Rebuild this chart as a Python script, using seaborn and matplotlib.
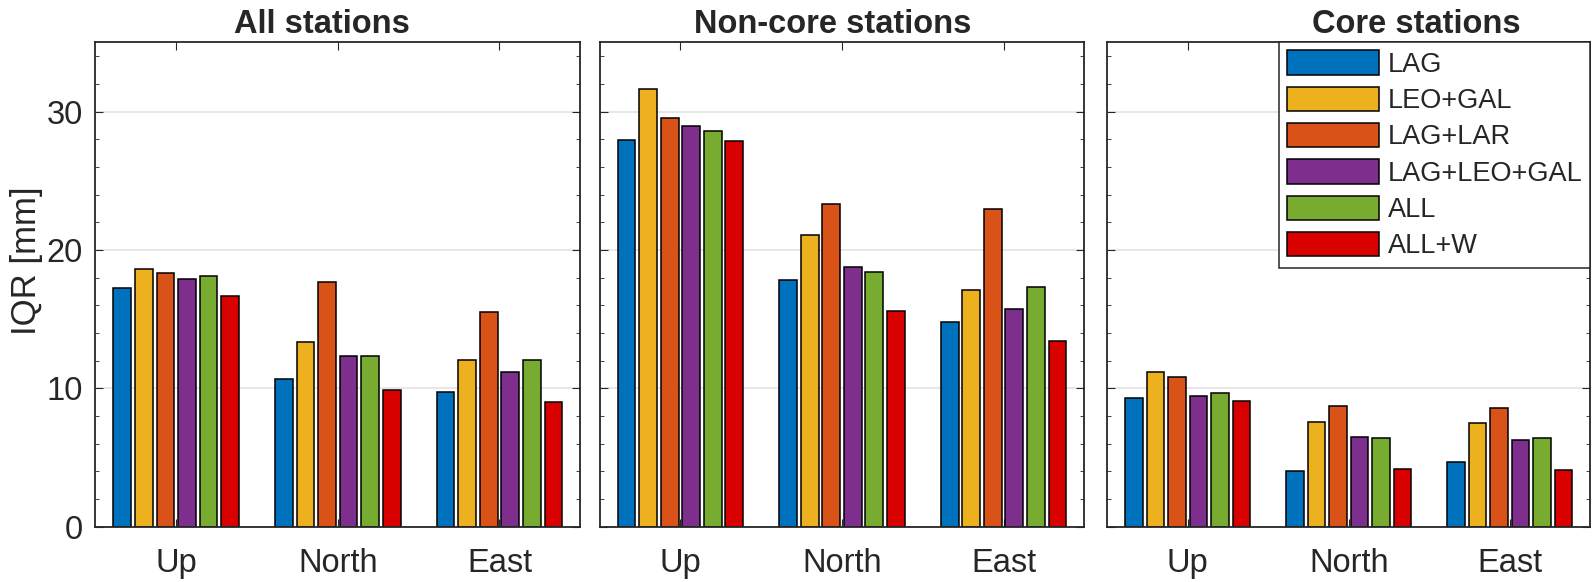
import pandas as pd
import numpy as np
import matplotlib
matplotlib.use("Agg")
import matplotlib.pyplot as plt
from matplotlib.ticker import MultipleLocator
import seaborn as sns

# IQR of station coordinate residuals [mm]
components = ["Up", "North", "East"]
methods = ["LAG", "LEO+GAL", "LAG+LAR", "LAG+LEO+GAL", "ALL", "ALL+W"]
colors = ["#0072BD", "#EDB120", "#D95319", "#7E2F8E", "#77AC30", "#D90000"]
titles = ["All stations", "Non-core stations", "Core stations"]

# rows = methods, columns = Up, North, East
iqr_all = [
    [17.25, 10.7, 9.75],
    [18.65, 13.35, 12.05],
    [18.35, 17.65, 15.5],
    [17.9, 12.35, 11.15],
    [18.1, 12.35, 12.05],
    [16.7, 9.85, 9.0],
]
iqr_noncore = [
    [27.95, 17.85, 14.8],
    [31.65, 21.1, 17.1],
    [29.5, 23.3, 22.95],
    [28.95, 18.8, 15.75],
    [28.6, 18.4, 17.3],
    [27.85, 15.55, 13.4],
]
iqr_core = [
    [9.3, 4.0, 4.7],
    [11.15, 7.6, 7.5],
    [10.85, 8.7, 8.55],
    [9.45, 6.5, 6.3],
    [9.65, 6.4, 6.4],
    [9.1, 4.2, 4.1],
]

sns.set_style("white")
plt.rcParams["font.family"] = ["Liberation Sans", "DejaVu Sans"]
plt.rcParams["axes.edgecolor"] = "#262626"
plt.rcParams["axes.linewidth"] = 1.3

fig = plt.figure(figsize=(15.92, 5.82), dpi=100)
lefts = [0.0599, 0.3767, 0.6955]
widths = [0.3046, 0.3044, 0.3035]
title_x = [0.468, 0.48, 0.64]

for i, data in enumerate([iqr_all, iqr_noncore, iqr_core]):
    ax = fig.add_axes([lefts[i], 0.0950, widths[i], 0.8323])
    df = pd.DataFrame(
        [(m, c, data[j][k]) for j, m in enumerate(methods) for k, c in enumerate(components)],
        columns=["method", "component", "iqr"],
    )
    sns.barplot(data=df, x="component", y="iqr", hue="method", order=components,
                hue_order=methods, palette=colors, saturation=1, edgecolor="black",
                linewidth=1.1, gap=0.18, width=0.8, ax=ax, legend=(i == 2))
    ax.set_xlim(-0.5, 2.5)
    ax.set_ylim(0, 35)
    ax.yaxis.set_major_locator(MultipleLocator(10))
    ax.yaxis.set_minor_locator(MultipleLocator(2))
    ax.yaxis.grid(True, which="major", color="#e3e3e3", lw=1.2)
    ax.set_axisbelow(True)
    ax.tick_params(axis="both", which="both", direction="in", top=True, right=True,
                   left=True, bottom=True, color="#262626")
    ax.tick_params(axis="both", which="major", length=6, labelsize=23.5, pad=9)
    ax.tick_params(axis="x", which="major", pad=15)
    ax.tick_params(axis="y", which="minor", length=3)
    ax.tick_params(axis="x", which="minor", length=0)
    ax.set_xlabel("")
    if i == 0:
        ax.set_ylabel("IQR [mm]", fontsize=25)
        ax.yaxis.set_label_coords(-0.108, 0.55)
    else:
        ax.set_ylabel("")
        ax.set_yticklabels([])
    ax.set_title(titles[i], fontsize=23.5, fontweight="bold", pad=7, x=title_x[i])
    if i == 2:
        handles, labels = ax.get_legend_handles_labels()
        leg = ax.legend(handles, labels, loc="upper right", bbox_to_anchor=(1.0, 1.0),
                        borderaxespad=0, fontsize=19.5, handlelength=3.4,
                        handleheight=1.0, labelspacing=0.33, handletextpad=0.3,
                        borderpad=0.3, fancybox=False, framealpha=1,
                        edgecolor="#262626")
        leg.get_frame().set_linewidth(1.1)

fig.savefig("out.png", dpi=100)
